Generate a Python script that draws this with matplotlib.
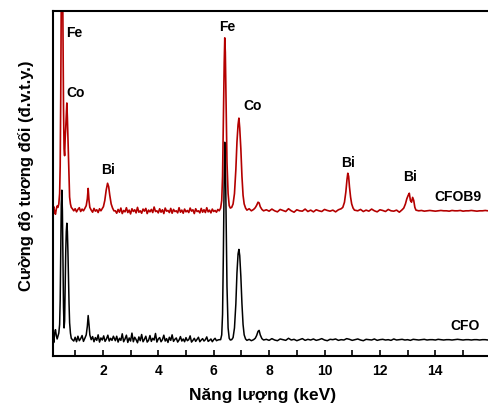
import numpy as np
import matplotlib.pyplot as plt
from matplotlib.ticker import MultipleLocator

plt.rcParams['font.family'] = ['Liberation Sans', 'DejaVu Sans']
plt.rcParams['font.weight'] = 'bold'

# === ДАННЫЕ: CFOB9 (красный) ===
# пики - явные точки (энергия, интенсивность)
cfob9_pk_e = [0.20, 0.23, 0.26, 0.29, 0.32, 0.35, 0.38, 0.41, 0.44, 0.46, 0.48, 0.50, 0.52, 0.54,
              0.56, 0.58, 0.60, 0.62, 0.64, 0.66, 0.68, 0.70, 0.72, 0.74, 0.76, 0.78, 0.80, 0.83,
              0.86, 0.90,
              1.40, 1.44, 1.47, 1.50, 1.53,
              2.02, 2.07, 2.12, 2.17, 2.21, 2.25, 2.30, 2.35, 2.40,
              6.25, 6.29, 6.32, 6.35, 6.38, 6.40, 6.42, 6.45, 6.48, 6.52, 6.56, 6.60, 6.65, 6.70,
              6.75, 6.80, 6.84, 6.88, 6.91, 6.94, 6.98, 7.02, 7.06, 7.10, 7.15, 7.20, 7.28, 7.36,
              7.44, 7.50, 7.55, 7.60, 7.64, 7.68, 7.74, 7.80,
              10.66, 10.72, 10.77, 10.81, 10.84, 10.87, 10.90, 10.94, 10.98, 11.03, 11.08,
              12.86, 12.92, 12.97, 13.02, 13.06, 13.10, 13.14, 13.18, 13.22, 13.26, 13.30]
cfob9_pk_i = [42.8, 43.2, 41.6, 41.0, 42.5, 43.4, 43.0, 44.0, 47.0, 55.0, 75.0, 105, 125, 118,
              95, 72, 60, 58, 63, 66, 70, 73.3, 69, 63, 56, 50, 46, 44,
              43, 42.6,
              43.5, 45.5, 48.5, 45.0, 43.0,
              43.2, 45.0, 48.0, 50.0, 49.0, 46.5, 44.0, 42.8, 42.0,
              42.8, 45, 52, 68, 85, 92.2, 88, 72, 56, 47, 43.5, 42.8, 43.0, 44.0,
              47, 54, 62, 67, 68.9, 66, 60, 52, 46.5, 44, 42.8, 42.2, 42.6, 42.0,
              42.4, 42.9, 43.6, 44.5, 44.3, 43.2, 42.4, 42.0,
              43.0, 44.5, 47.5, 51, 52.9, 52, 49, 46, 44, 42.8, 42.2,
              42.8, 44.0, 45.5, 46.5, 47.1, 45.0, 44.5, 45.9, 45.0, 43.0, 42.2]
# фон - участки: (начало, шаг, значения)
cfob9_bg = [
    (0.95, 0.05, [42.0, 42.6, 41.7, 42.4, 42.9, 41.8, 42.5, 42.0, 42.7]),
    (1.58, 0.05, [42.2, 41.6, 42.7, 41.9, 42.3, 41.5, 42.6, 42.0]),
    (2.45, 0.05, [42.0, 41.3, 42.4, 41.6, 42.8, 41.2, 42.1, 41.7, 42.9, 41.5,
                  42.2, 41.1, 42.6, 41.8, 42.3, 41.4, 43.0, 41.6, 42.0, 41.3,
                  42.5, 41.9, 42.7, 41.2, 42.2, 41.7, 42.4, 41.5, 43.1, 41.8,
                  42.0, 41.4, 42.6, 41.6, 42.3, 41.2, 42.8, 41.9, 42.1, 41.5,
                  42.7, 41.3, 42.4, 41.8, 42.0, 41.4, 42.9, 41.6, 42.2, 41.3,
                  42.5, 41.7, 42.1, 41.5, 42.8, 41.9, 42.3, 41.2, 42.6, 41.8,
                  42.0, 41.4, 42.7, 41.6, 42.3, 41.5, 42.9, 41.7, 42.2, 41.4,
                  42.5, 41.8, 42.1, 41.6, 42.4, 42.0]),
    (7.90, 0.1, [42.3, 41.9, 42.5, 42.0, 41.7, 42.4, 42.1, 41.8, 42.6, 42.0, 41.6, 42.3, 42.0,
                 41.9, 42.5, 41.8, 42.2, 41.7, 42.3, 42.0, 41.8, 42.4, 42.1, 41.9, 42.2, 41.7,
                 42.3, 42.6]),
    (11.20, 0.1, [42.0, 42.4, 41.8, 42.2, 41.9, 42.5, 42.0, 41.7, 42.3, 42.1, 41.8, 42.4, 42.0,
                  41.9, 42.2, 41.6, 42.3]),
    (13.40, 0.1, [42.0, 42.1, 41.9, 42.0, 42.1, 42.0, 41.9, 42.0, 42.1, 42.0, 42.0, 41.9, 42.1,
                  42.0, 42.0, 42.1, 41.9, 42.0, 42.0, 42.1, 42.0, 41.9, 42.0, 42.0, 42.1, 42.0]),
]

# === ДАННЫЕ: CFO (чёрный) ===
cfo_pk_e = [0.20, 0.23, 0.26, 0.29, 0.32, 0.35, 0.38, 0.41, 0.44, 0.46, 0.48, 0.50, 0.52, 0.54,
            0.56, 0.58, 0.60, 0.62, 0.64, 0.66, 0.68, 0.70, 0.72, 0.74, 0.76, 0.78, 0.80, 0.83,
            0.86, 0.90,
            1.40, 1.44, 1.47, 1.50, 1.53,
            6.25, 6.29, 6.32, 6.35, 6.38, 6.40, 6.42, 6.45, 6.48, 6.52, 6.56, 6.60, 6.65, 6.70,
            6.75, 6.80, 6.84, 6.88, 6.91, 6.94, 6.98, 7.02, 7.06, 7.10, 7.15, 7.20, 7.28, 7.36,
            7.44, 7.50, 7.55, 7.60, 7.64, 7.68, 7.74, 7.80]
cfo_pk_i = [5.5, 3.8, 6.5, 7.5, 5.8, 4.8, 5.6, 6.5, 9, 16, 30, 44, 48, 42,
            28, 14, 8, 10, 20, 30, 36, 38.4, 36, 30, 22, 15, 9.5, 6.5,
            5.0, 4.6,
            6.0, 8.5, 11.6, 9.0, 6.0,
            4.6, 6, 12, 30, 52, 61.9, 58, 40, 20, 8, 5, 4.5, 4.6, 5.2,
            8, 15, 24, 29.5, 30.8, 29, 23, 15, 9, 6, 4.8, 4.4, 4.7, 4.3,
            4.6, 5.0, 5.8, 7.0, 7.3, 6.0, 4.9, 4.5]
cfo_bg = [
    (0.95, 0.05, [4.2, 5.3, 4.0, 5.6, 4.3, 4.9, 5.8, 4.1, 5.0]),
    (1.58, 0.05, [4.6, 5.5, 4.0, 5.2, 4.4, 6.0, 3.9, 5.1, 4.5, 5.7, 4.1, 4.8, 5.9, 4.2, 5.0,
                  4.4, 5.6]),
    (2.45, 0.05, [4.3, 5.6, 3.9, 5.0, 4.4, 6.3, 4.0, 4.8, 5.9, 3.8,
                  5.1, 4.2, 6.5, 4.0, 5.3, 4.6, 3.7, 5.4, 4.3, 6.1,
                  4.0, 4.7, 5.6, 3.9, 4.4, 5.8, 4.1, 5.0, 4.5, 6.4,
                  3.9, 4.8, 5.2, 4.0, 4.6, 5.9, 4.2, 4.9, 3.8, 5.3,
                  4.4, 6.0, 4.1, 4.7, 5.1, 3.9, 4.5, 5.5, 4.2, 4.8,
                  4.0, 5.2, 4.3, 4.6, 5.7, 3.9, 4.4, 5.0, 4.1, 4.7,
                  5.3, 4.0, 4.5, 4.9, 4.2, 4.6, 5.4, 4.1, 4.4, 4.8,
                  4.0, 4.6, 5.0, 4.3, 4.5, 4.6]),
    (7.90, 0.1, [4.7, 4.4, 4.9, 4.5, 4.3, 4.8, 4.6, 4.4, 5.0, 4.5, 4.7, 4.3, 4.6, 4.9, 4.4, 4.7,
                 4.5, 4.8, 4.4, 4.6, 4.9, 4.5, 4.3, 4.7, 4.6, 4.8, 4.4, 4.6, 4.5, 4.9, 4.7, 4.4,
                 4.6, 4.8, 4.5, 4.3, 4.7, 4.6, 4.5, 4.8, 4.4, 4.6, 4.7, 4.5, 4.6, 4.4, 4.8, 4.5,
                 4.6, 4.7, 4.5, 4.6, 4.4, 4.7, 4.6, 4.5, 4.6, 4.7, 4.5, 4.6, 4.6, 4.5, 4.7, 4.6,
                 4.5, 4.6, 4.6, 4.5, 4.6, 4.7, 4.6, 4.5, 4.6, 4.6, 4.5, 4.6, 4.6, 4.5, 4.6, 4.6,
                 4.5]),
]

# подписи пиков: (текст, энергия, интенсивность, выравнивание)
peak_labels = [('Fe', 0.68, 93.6, 'left'), ('Co', 0.68, 76.2, 'left'), ('Bi', 2.19, 53.8, 'center'),
               ('Fe', 6.49, 95.3, 'center'), ('Co', 7.06, 72.4, 'left'),
               ('Bi', 10.85, 55.8, 'center'), ('Bi', 13.09, 51.7, 'center')]
sample_labels = [('CFOB9', 14.83, 45.9), ('CFO', 15.08, 8.7)]


def build(pk_e, pk_i, bg):
    e = list(pk_e)
    v = list(pk_i)
    for start, step, vals in bg:
        for k, val in enumerate(vals):
            e.append(round(start + step * k, 3))
            v.append(val)
    order = np.argsort(e, kind='stable')
    return np.array(e)[order], np.array(v)[order]


e_red, i_red = build(cfob9_pk_e, cfob9_pk_i, cfob9_bg)
e_blk, i_blk = build(cfo_pk_e, cfo_pk_i, cfo_bg)

fig = plt.figure(figsize=(4.88, 4.07), dpi=100)
ax = fig.add_axes([0.108, 0.1265, 0.892, 0.8465])

ax.plot(e_blk, i_blk, color='black', lw=1.1)
ax.plot(e_red, i_red, color='#b40000', lw=1.2)

for txt, x, y, ha in peak_labels:
    ax.text(x, y, txt, ha=ha, va='center', fontsize=10, fontweight='bold')
for txt, x, y in sample_labels:
    ax.text(x, y, txt, ha='center', va='center', fontsize=10, fontweight='bold')

ax.set_xlim(0.19, 15.9)
ax.set_ylim(0, 100)
ax.xaxis.set_minor_locator(MultipleLocator(1))
ax.set_xticks([2, 4, 6, 8, 10, 12, 14])
ax.set_yticks([])
ax.tick_params(axis='x', which='both', direction='in', length=4, width=1.2,
               labelsize=10, pad=6)
for lab in ax.get_xticklabels():
    lab.set_fontweight('bold')
ax.spines['right'].set_visible(False)
for s in ['top', 'left', 'bottom']:
    ax.spines[s].set_linewidth(1.5)

ax.set_xlabel('Năng lượng (keV)', fontsize=12.5, fontweight='bold')
ax.xaxis.set_label_coords(0.483, -0.093)
ax.set_ylabel('Cường độ tương đối (đ.v.t.y.)', fontsize=12, fontweight='bold')
ax.yaxis.set_label_coords(-0.042, 0.523)

fig.savefig('out.png', dpi=100)
